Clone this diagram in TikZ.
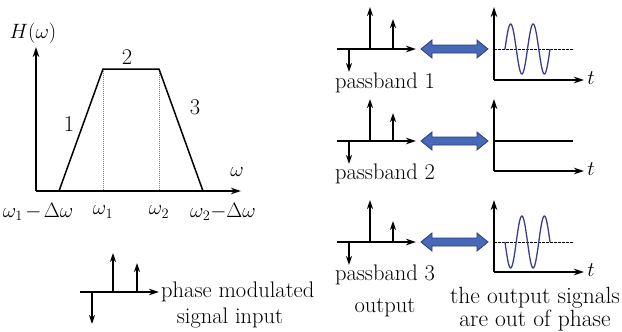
\documentclass[tikz,border=0pt]{standalone}
\usetikzlibrary{arrows.meta}
\definecolor{arrowblue}{RGB}{72,104,184}
\definecolor{arrowedge}{RGB}{40,60,120}
\definecolor{sinecol}{RGB}{60,60,140}
\tikzset{
  ax/.style={line width=1.5pt,-{Stealth[length=10pt,width=6.5pt]}},
  imp/.style={line width=1.5pt,-{Stealth[length=9pt,width=6pt]}},
  curve/.style={line width=1.5pt,line join=miter},
  guide/.style={gray,line width=0.5pt,dash pattern=on 1pt off 1pt},
  mid/.style={black,line width=1pt,dash pattern=on 2.5pt off 1.5pt},
  sine/.style={sinecol,line width=1.3pt},
  dbl/.style={fill=arrowblue,draw=arrowedge,line width=0.8pt,line join=miter},
  lbl/.style={inner sep=0pt,font=\fontsize{22.5}{25}\selectfont},
  mlbl/.style={inner sep=0pt,font=\fontsize{20.5}{23}\selectfont},
  twol/.style={inner sep=0pt,align=center,font=\fontsize{23.5}{17.5}\selectfont},
}
\begin{document}
\begin{tikzpicture}[x=1pt,y=-1pt]
\useasboundingbox (0,0) rectangle (622,332);
% ---- left transfer function ----
\coordinate (O) at (36,191);
\coordinate (Ytop) at (36,47);
\coordinate (Xend) at (241,191);
\draw[ax] (O) -- (Ytop);
\draw[ax] (O) -- (Xend);
\coordinate (p1) at (59,191);
\coordinate (p2) at (103,69);
\coordinate (p3) at (159,69);
\coordinate (p4) at (203,191);
\coordinate (g1) at (103,191);
\coordinate (g2) at (159,191);
\draw[guide] (p2) -- (g1);
\draw[guide] (p3) -- (g2);
\draw[curve] (p1) -- (p2) -- (p3) -- (p4);
\node[lbl] (H) at (33,33) {$H(\omega)$};
\node[lbl] (n1) at (69,124) {1};
\node[lbl] (n2) at (127,57) {2};
\node[lbl] (n3) at (195,107) {3};
\node[lbl] (w) at (237,172) {$\omega$};
\node[mlbl] (wa) at (38,212) {$\omega_1\mskip2mu{-}\mskip2mu\Delta\omega$};
\node[mlbl] (wb) at (103,212) {$\omega_1$};
\node[mlbl] (wc) at (159,212) {$\omega_2$};
\node[mlbl] (wd) at (223,212) {$\omega_2{-}\Delta\omega$};
% ---- input spectrum ----
\coordinate (ia) at (80,292);
\coordinate (ib) at (159,292);
\draw[ax] (ia) -- (ib);
\coordinate (iu1) at (113,292); \coordinate (iu1t) at (113,253);
\coordinate (iu2) at (137,292); \coordinate (iu2t) at (137,263);
\coordinate (id) at (92,292); \coordinate (idt) at (92,324);
\draw[imp] (iu1) -- (iu1t);
\draw[imp] (iu2) -- (iu2t);
\draw[imp] (id) -- (idt);
\node[lbl,anchor=west] (in1) at (161,292) {phase modulated};
\node[lbl] (in2) at (230,318) {signal input};
% ---- three passband panels ----
\foreach \c/\h/\ta/\lab in {49/30/80/1,141/28/171/2,242/21/272/3}{
  \coordinate (sa\lab) at (337,\c);
  \coordinate (sb\lab) at (416,\c);
  \draw[ax] (sa\lab) -- (sb\lab);
  \coordinate (su\lab) at (370,\c); \coordinate (sut\lab) at (370,\c-42);
  \coordinate (sv\lab) at (393,\c); \coordinate (svt\lab) at (393,\c-\h);
  \coordinate (sd\lab) at (349,\c); \coordinate (sdt\lab) at (349,\c+23);
  \draw[imp] (su\lab) -- (sut\lab);
  \draw[imp] (sv\lab) -- (svt\lab);
  \draw[imp] (sd\lab) -- (sdt\lab);
  \draw[dbl] (421,\c) -- (432,\c-9) -- (432,\c-4) -- (477,\c-4) -- (477,\c-9)
     -- (488,\c) -- (477,\c+9) -- (477,\c+4) -- (432,\c+4) -- (432,\c+9) -- cycle;
  \coordinate (to\lab) at (494,\ta);
  \coordinate (ty\lab) at (494,\c-42);
  \coordinate (tx\lab) at (584,\ta);
  \draw[ax] (to\lab) -- (ty\lab);
  \draw[ax] (to\lab) -- (tx\lab);
  \node[lbl] (t\lab) at (591,\ta-2) {$t$};
  \node[lbl] (pb\lab) at (385,\ta+3) {passband \lab};
}
% output of passband 1: sine, dashed
\coordinate (m1a) at (494,49); \coordinate (m1b) at (573,49);
\draw[mid] (m1a) -- (m1b);
\draw[sine] plot[domain=0:45,samples=90] ({505+\x},{49-25*sin(16*\x)});
% passband 2: flat line
\coordinate (m2a) at (494,141); \coordinate (m2b) at (573,141);
\draw[line width=1.3pt] (m2a) -- (m2b);
% passband 3: inverted sine
\coordinate (m3a) at (494,242); \coordinate (m3b) at (573,242);
\draw[mid] (m3a) -- (m3b);
\draw[sine] plot[domain=0:45,samples=90] ({505+\x},{242+26*sin(16*\x)});
\node[lbl] (outl) at (385,308) {output};
\node[twol] (os) at (535,309) {the output signals\\are out of phase};
\end{tikzpicture}
\end{document}
